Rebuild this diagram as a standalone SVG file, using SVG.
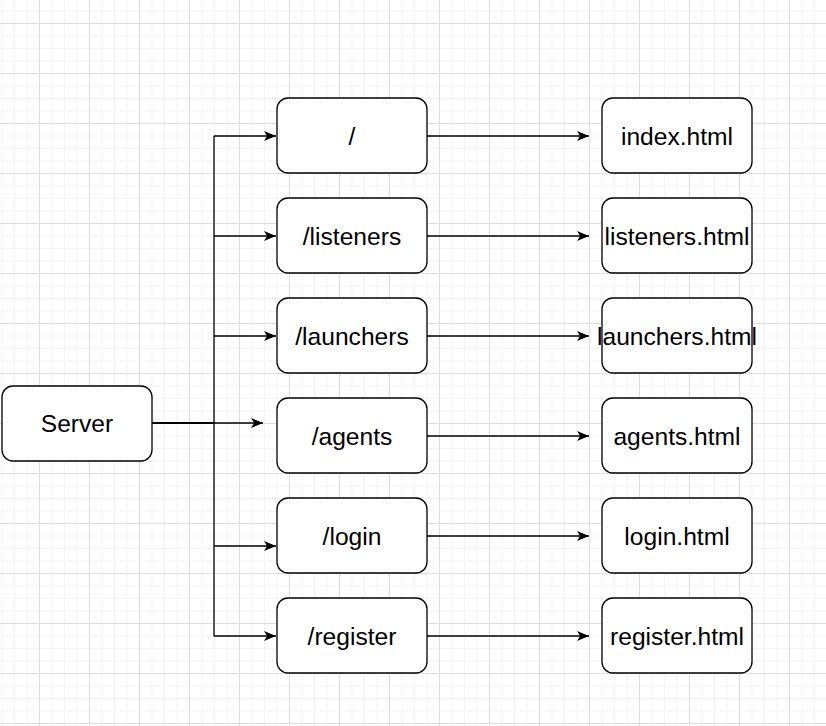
<svg xmlns="http://www.w3.org/2000/svg" width="826" height="726" viewBox="0 0 826 726">
<defs>
<pattern id="grid" patternUnits="userSpaceOnUse" x="39" y="23" width="50" height="50">
<rect x="12.5" y="0" width="1" height="50" fill="#f3f3f3"/>
<rect x="25" y="0" width="1" height="50" fill="#f3f3f3"/>
<rect x="37.5" y="0" width="1" height="50" fill="#f3f3f3"/>
<rect x="0" y="12.5" width="50" height="1" fill="#f3f3f3"/>
<rect x="0" y="25" width="50" height="1" fill="#f3f3f3"/>
<rect x="0" y="37.5" width="50" height="1" fill="#f3f3f3"/>
<rect x="0" y="0" width="1" height="50" fill="#dedede"/>
<rect x="0" y="0" width="50" height="1" fill="#dedede"/>
</pattern>
<marker id="arr" markerUnits="userSpaceOnUse" markerWidth="13" markerHeight="11" refX="12" refY="5.5" orient="auto">
<path d="M0,0.5 L12,5.5 L0,10.5 L3.2,5.5 Z" fill="#000"/>
</marker>
</defs>
<style>
.box{fill:#fff;stroke:#000;stroke-width:1.3}
.lbl{font-family:"Liberation Sans",Arial,sans-serif;font-size:24.6px;fill:#000;text-anchor:middle}
.e{fill:none;stroke:#000;stroke-width:1.3}
</style>
<rect width="826" height="726" fill="#fff"/>
<rect width="826" height="726" fill="url(#grid)"/>
<g id="connectors">
<path class="e" d="M152,423 H214" style="stroke-width:2"/>
<path class="e" d="M214,423 H263" marker-end="url(#arr)"/>
<path class="e" d="M214,136 V636"/>
<path class="e" d="M214,136 H276" marker-end="url(#arr)"/>
<path class="e" d="M214,236 H276" marker-end="url(#arr)"/>
<path class="e" d="M214,336 H276" marker-end="url(#arr)"/>
<path class="e" d="M214,546 H276" marker-end="url(#arr)"/>
<path class="e" d="M214,636 H276" marker-end="url(#arr)"/>
<path class="e" d="M427,136 H589" marker-end="url(#arr)"/>
<path class="e" d="M427,236 H589" marker-end="url(#arr)"/>
<path class="e" d="M427,336 H589" marker-end="url(#arr)"/>
<path class="e" d="M427,436 H589" marker-end="url(#arr)"/>
<path class="e" d="M427,536 H589" marker-end="url(#arr)"/>
<path class="e" d="M427,636 H589" marker-end="url(#arr)"/>
</g>
<g id="server"><rect class="box" x="2" y="386" width="150" height="75" rx="11"/><text class="lbl" x="77" y="432">Server</text></g>
<g id="r-root"><rect class="box" x="277" y="98" width="150" height="75" rx="11"/><text class="lbl" x="352" y="144.5">/</text></g>
<g id="r-listeners"><rect class="box" x="277" y="198" width="150" height="75" rx="11"/><text class="lbl" x="352" y="244.5">/listeners</text></g>
<g id="r-launchers"><rect class="box" x="277" y="298" width="150" height="75" rx="11"/><text class="lbl" x="352" y="344.5">/launchers</text></g>
<g id="r-agents"><rect class="box" x="277" y="398" width="150" height="75" rx="11"/><text class="lbl" x="352" y="444.5">/agents</text></g>
<g id="r-login"><rect class="box" x="277" y="498" width="150" height="75" rx="11"/><text class="lbl" x="352" y="544.5">/login</text></g>
<g id="r-register"><rect class="box" x="277" y="598" width="150" height="75" rx="11"/><text class="lbl" x="352" y="644.5">/register</text></g>
<g id="h-index"><rect class="box" x="602" y="98" width="150" height="75" rx="11"/><text class="lbl" x="677" y="144.5">index.html</text></g>
<g id="h-listeners"><rect class="box" x="602" y="198" width="150" height="75" rx="11"/><text class="lbl" x="677" y="244.5">listeners.html</text></g>
<g id="h-launchers"><rect class="box" x="602" y="298" width="150" height="75" rx="11"/><text class="lbl" x="677" y="344.5">launchers.html</text></g>
<g id="h-agents"><rect class="box" x="602" y="398" width="150" height="75" rx="11"/><text class="lbl" x="677" y="444.5">agents.html</text></g>
<g id="h-login"><rect class="box" x="602" y="498" width="150" height="75" rx="11"/><text class="lbl" x="677" y="544.5">login.html</text></g>
<g id="h-register"><rect class="box" x="602" y="598" width="150" height="75" rx="11"/><text class="lbl" x="677" y="644.5">register.html</text></g>
</svg>
